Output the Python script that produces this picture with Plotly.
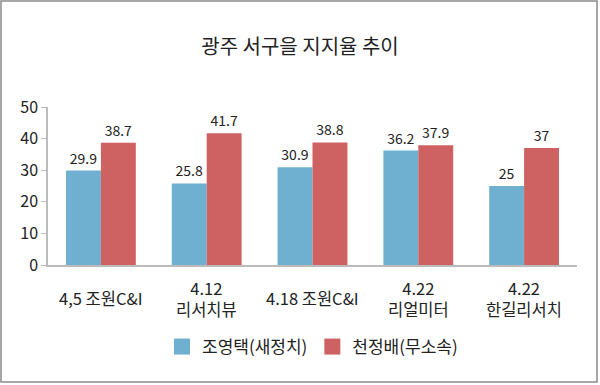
import plotly.graph_objects as go

categories = ["4,5 조원C&I", "4.12<br>리서치뷰", "4.18 조원C&I", "4.22<br>리얼미터", "4.22<br>한길리서치"]
series_names = ["조영택(새정치)", "천정배(무소속)"]
cho = [29.9, 25.8, 30.9, 36.2, 25]
cheon = [38.7, 41.7, 38.8, 37.9, 37]
y_ticks = [0, 10, 20, 30, 40, 50]

FONT = "Noto Sans CJK KR"
blue = "#6FAFD0"
red = "#CE6262"

fig = go.Figure()
xs = list(range(len(categories)))
for name, vals, col in [(series_names[0], cho, blue), (series_names[1], cheon, red)]:
    fig.add_trace(go.Bar(
        x=xs, y=vals, name=name, marker=dict(color=col, line=dict(width=0)),
        text=[str(v) for v in vals], textposition="outside", cliponaxis=False,
        textfont=dict(family=FONT, size=14, color="#222"), showlegend=False,
    ))
# legend entries with larger square swatches
for name, col in [(series_names[0], blue), (series_names[1], red)]:
    fig.add_trace(go.Scatter(x=[None], y=[None], mode="markers", name=name,
                             marker=dict(symbol="square", size=22, color=col)))

L, R, T, B = 48, 23, 107, 120
W, H = 600, 385
pw, ph = W - L - R, H - T - B

annotations = []
for i, c in enumerate(categories):
    annotations.append(dict(x=i, y=-(298 - (H - B)) / ph, xref="x", yref="paper",
                            text=c, showarrow=False, yanchor="middle", xanchor="center",
                            font=dict(family=FONT, size=16.5, color="#222")))

fig.update_layout(
    width=W, height=H,
    margin=dict(l=L, r=R, t=T, b=B, autoexpand=False),
    paper_bgcolor="white", plot_bgcolor="white",
    title=dict(text="광주 서구을 지지율 추이", x=0.5, xanchor="center", y=1 - 47 / H, yanchor="middle",
               font=dict(family=FONT, size=20, color="#222")),
    barmode="group", bargap=0.34, bargroupgap=0,
    xaxis=dict(tickvals=xs, ticktext=["" for _ in xs], showline=True, linecolor="#BBBBBB", linewidth=1.5,
               ticks="", range=[-0.5, len(xs) - 0.5], showgrid=False, automargin=False),
    yaxis=dict(range=[0, 50], tickvals=y_ticks, showline=True, linecolor="#BBBBBB", linewidth=1.5,
               ticks="outside", ticklen=5, tickcolor="#BBBBBB", showgrid=False, zeroline=False,
               automargin=False, tickfont=dict(family=FONT, size=16, color="#222")),
    legend=dict(orientation="h", x=0.5, xanchor="center", y=-(347 - (H - B)) / ph, yanchor="middle",
                font=dict(family=FONT, size=17, color="#222"), itemsizing="trace"),
    annotations=annotations,
    shapes=[dict(type="rect", xref="paper", yref="paper",
                 x0=(1 - L) / pw, x1=(W - 3 - L) / pw,
                 y0=-(H - 3 - (H - B)) / ph, y1=(H - B - 1) / ph,
                 line=dict(color="#8A8A8A", width=1.5))],
    font=dict(family=FONT),
)

fig.write_html("out.html", config={"displayModeBar": False},
               post_script="document.body.style.margin='0';")
